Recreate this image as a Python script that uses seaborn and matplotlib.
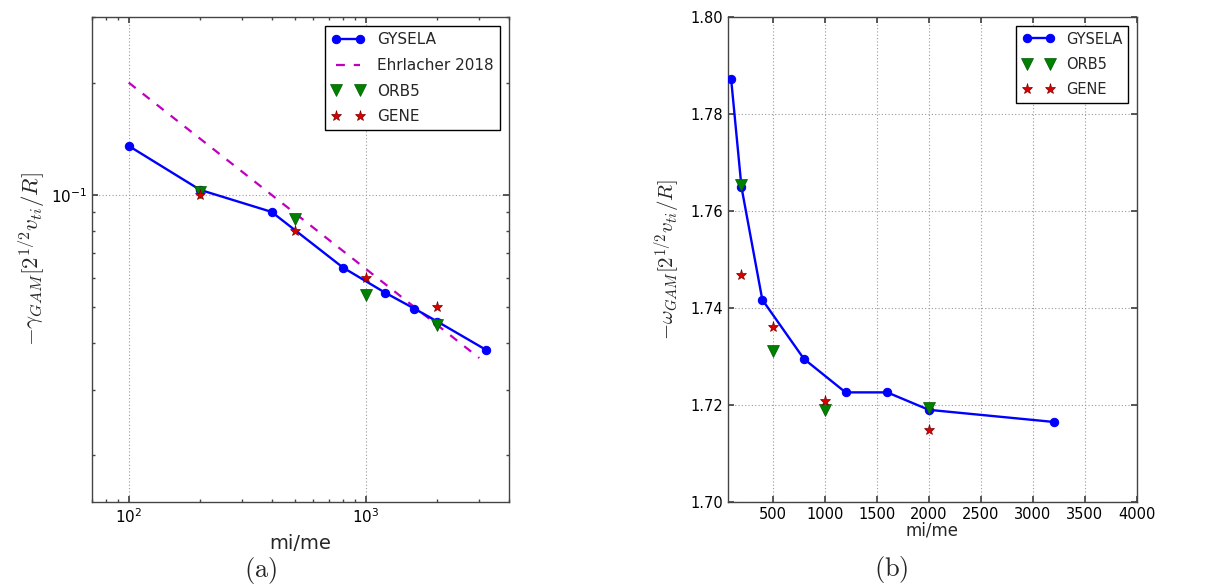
import numpy as np
import pandas as pd
import matplotlib
matplotlib.use("Agg")
import matplotlib.pyplot as plt
import matplotlib.ticker as mticker
import seaborn as sns

# ---------------- data ----------------
mass_ratio = [100, 200, 400, 800, 1200, 1600, 2000, 3200]
gysela_gamma = [0.1353, 0.1031, 0.0900, 0.0638, 0.0547, 0.0495, 0.0457, 0.0384]
gysela_omega = [1.7873, 1.7649, 1.7417, 1.7295, 1.7226, 1.7226, 1.7190, 1.7165]

ehrlacher_x = [100, 3000]
ehrlacher_gamma = [0.2, 0.0365]

code_x = [200, 500, 1000, 2000]
orb5_gamma = [0.102, 0.086, 0.054, 0.0448]
gene_gamma = [0.100, 0.080, 0.060, 0.050]
orb5_omega = [1.7654, 1.7311, 1.7190, 1.7193]
gene_omega = [1.7469, 1.7360, 1.7208, 1.7149]

right_xticks = [500, 1000, 1500, 2000, 2500, 3000, 3500, 4000]
right_yticks = [1.70, 1.72, 1.74, 1.76, 1.78, 1.80]

# ---------------- style ----------------
sns.set_theme(style="white")
plt.rcParams.update({
    "font.family": ["DejaVu Sans"],
    "axes.unicode_minus": False,
    "axes.edgecolor": "#444444",
    "axes.linewidth": 1.0,
    "xtick.direction": "in",
    "ytick.direction": "in",
    "xtick.top": True,
    "ytick.right": True,
    "xtick.bottom": True,
    "ytick.left": True,
    "xtick.color": "#444444",
    "ytick.color": "#444444",
    "xtick.labelcolor": "black",
    "ytick.labelcolor": "black",
    "xtick.major.size": 4,
    "ytick.major.size": 4,
    "xtick.minor.size": 2,
    "ytick.minor.size": 2,
    "legend.fancybox": False,
    "legend.framealpha": 1.0,
    "legend.edgecolor": "black",
})

BLUE = (0, 0, 1)
GREEN = (0, 0.5, 0)
RED = (0.85, 0, 0)
MAG = (0.75, 0, 0.75)

fig = plt.figure(figsize=(12.21, 5.85), dpi=100)
axL = fig.add_axes([0.0753, 0.1419, 0.3415, 0.8291])
axR = fig.add_axes([0.5962, 0.1419, 0.3350, 0.8291])


def draw(ax, gys_y, orb_y, gene_y, ehr=None):
    sns.lineplot(x=mass_ratio, y=gys_y, ax=ax, color=BLUE, lw=1.7, marker="o",
                 markersize=6, markeredgecolor=BLUE, label="GYSELA", zorder=3)
    if ehr is not None:
        sns.lineplot(x=ehrlacher_x, y=ehr, ax=ax, color=MAG, lw=1.6,
                     linestyle=(0, (4, 4)), label="Ehrlacher 2018", zorder=2)
    sns.lineplot(x=code_x, y=orb_y, ax=ax, color=GREEN, linestyle="", marker="v",
                 markersize=8, markeredgecolor=(0, 0.35, 0), markeredgewidth=0.5,
                 label="ORB5", zorder=4)
    sns.lineplot(x=code_x, y=gene_y, ax=ax, color=RED, linestyle="", marker="*",
                 markersize=8, markeredgecolor=(0.5, 0, 0), markeredgewidth=0.5,
                 label="GENE", zorder=5)


draw(axL, gysela_gamma, orb5_gamma, gene_gamma, ehr=ehrlacher_gamma)
draw(axR, gysela_omega, orb5_omega, gene_omega)

# ---- left axes (log-log)
axL.set_xscale("log")
axL.set_yscale("log")
axL.set_xlim(70, 4000)
axL.set_ylim(0.015, 0.3)
axL.xaxis.set_minor_formatter(mticker.NullFormatter())
axL.yaxis.set_minor_formatter(mticker.NullFormatter())
axL.tick_params(axis="both", which="major", labelsize=11)
axL.grid(True, which="major", color="#999999", linestyle=(0, (1, 2)), linewidth=0.8)
axL.set_xlabel("mi/me", fontsize=14, labelpad=6)
axL.set_ylabel(r"$-\gamma_{GAM}[2^{1/2}v_{ti}/R]$", fontsize=16.5,
               math_fontfamily="cm", labelpad=3)
legL = axL.legend(loc="upper right", numpoints=2, fontsize=11, borderaxespad=0.6,
                  handlelength=2.2, labelspacing=0.7, borderpad=0.4)

# ---- right axes (linear)
axR.set_xlim(70, 4000)
axR.set_ylim(1.70, 1.80)
axR.set_xticks(right_xticks)
axR.set_yticks(right_yticks)
axR.yaxis.set_major_formatter(mticker.FormatStrFormatter("%.2f"))
axR.tick_params(axis="both", which="major", labelsize=10.5)
axR.grid(True, which="major", color="#999999", linestyle=(0, (1, 2)), linewidth=0.8)
axR.set_xlabel("mi/me", fontsize=12, labelpad=0)
axR.set_ylabel(r"$-\omega_{GAM}[2^{1/2}v_{ti}/R]$", fontsize=15,
               math_fontfamily="cm", labelpad=6)
legR = axR.legend(loc="upper right", numpoints=2, fontsize=10.5, borderaxespad=0.6,
                  handlelength=2.2, labelspacing=0.7, borderpad=0.4)

for leg in (legL, legR):
    leg.get_frame().set_linewidth(1.0)

fig.text(0.213, 0.025, r"$\mathrm{(a)}$", fontsize=19, math_fontfamily="cm",
         ha="center", va="center")
fig.text(0.7297, 0.027, r"$\mathrm{(b)}$", fontsize=19, math_fontfamily="cm",
         ha="center", va="center")

fig.savefig("out.png", dpi=100, facecolor="white")
